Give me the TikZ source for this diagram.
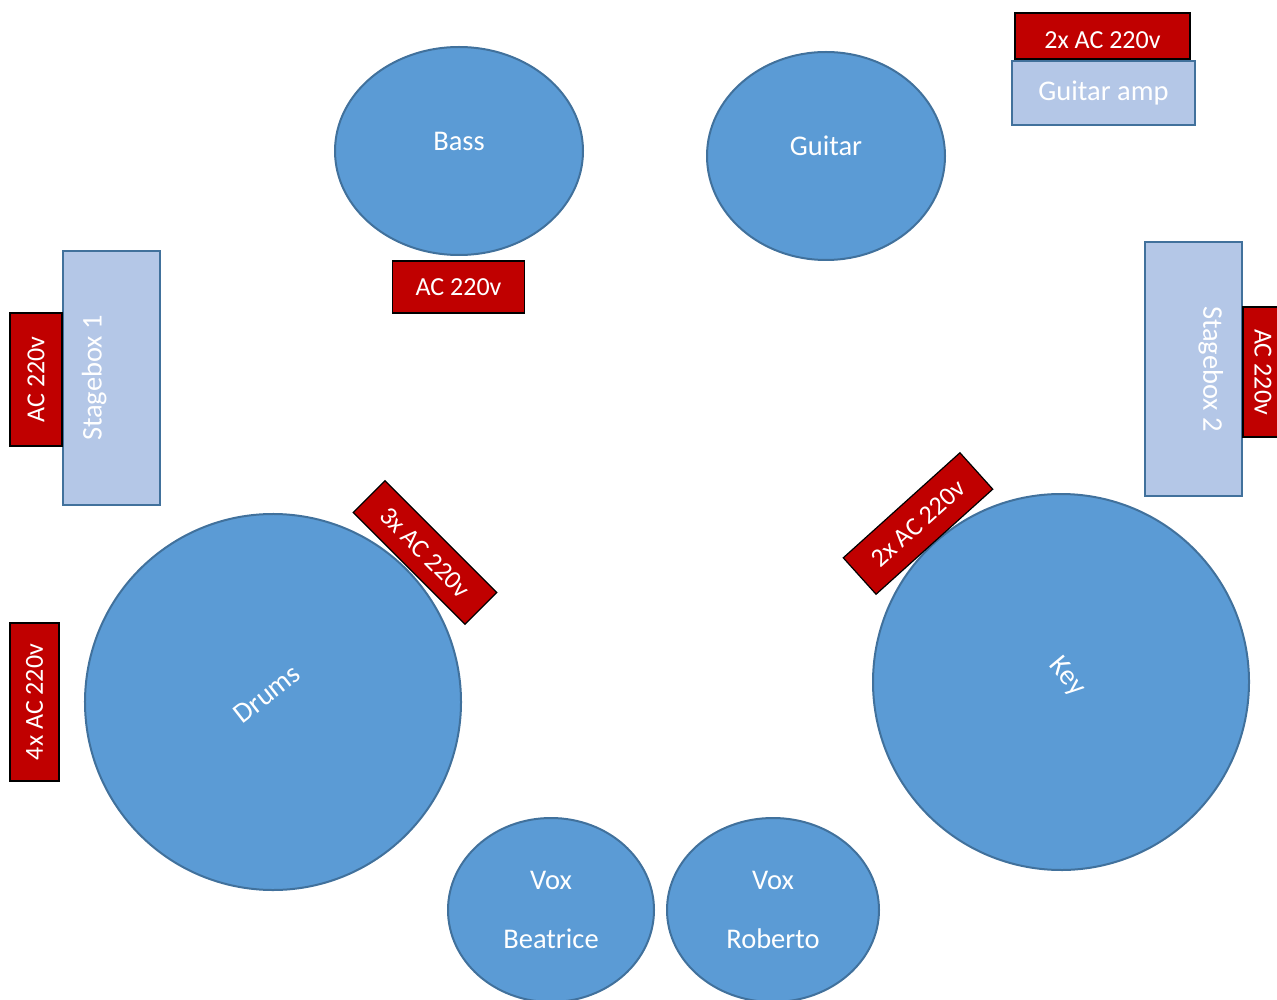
\documentclass[tikz,border=0pt]{standalone}
\usepackage{fontspec}
\setmainfont{Carlito}
\usetikzlibrary{shapes.geometric}
\definecolor{stagefill}{HTML}{5B9BD5}
\definecolor{stageline}{HTML}{41719C}
\definecolor{boxfill}{HTML}{B4C7E7}
\definecolor{powerfill}{HTML}{C00000}
\tikzset{
  player/.style={ellipse, fill=stagefill, draw=stageline, line width=2pt, inner sep=0pt,
    text=white, font=\fontsize{28.5}{34}\selectfont, text height=20pt, text depth=21.6pt},
  voxplayer/.style={ellipse, fill=stagefill, draw=stageline, line width=2pt, inner sep=0pt,
    text=white, font=\fontsize{28.5}{34}\selectfont, align=center},
  power/.style={rectangle, fill=powerfill, draw=black, line width=1.2pt, inner sep=0pt,
    text=white, font=\fontsize{26}{30}\selectfont},
  gear/.style={rectangle, fill=boxfill, draw=stageline, line width=2.5pt, inner sep=0pt,
    text=white, font=\fontsize{28.5}{34}\selectfont},
}
\begin{document}
\begin{tikzpicture}[x=1pt,y=-1pt]
\useasboundingbox (0,0) rectangle (1277,1000);
\clip (0,0) rectangle (1277,1000);

% players
\node[player, minimum width=248pt, minimum height=208pt] (bass) at (459,151) {Bass};
\node[player, minimum width=238pt, minimum height=208pt] (guitar) at (826,156) {Guitar};
\node[player, circle, minimum size=376pt, rotate=38] (drums) at (273,702) {Drums};
\node[player, circle, minimum size=376pt, rotate=-50] (key) at (1061,682) {Key};
\node[voxplayer, minimum width=206pt, minimum height=184pt] (voxb) at (551,910) {Vox\\[25pt]Beatrice};
\node[voxplayer, minimum width=212pt, minimum height=184pt] (voxr) at (773,910) {Vox\\[25pt]Roberto};

% gear
\node[gear, minimum width=183pt, minimum height=64pt] (amp) at (1103.5,93) {Guitar amp};
\node[gear, minimum width=254pt, minimum height=97pt, rotate=90, text height=20pt, text depth=39.6pt] (sb1) at (111.5,378) {Stagebox 1};
\node[gear, minimum width=254pt, minimum height=97pt, rotate=-90, text height=20pt, text depth=39.6pt] (sb2) at (1193.5,369) {Stagebox 2};

% power
\node[power, minimum width=175pt, minimum height=46pt, text height=26pt, text depth=1.2pt] (pamp) at (1102.5,36) {2x AC 220v};
\node[power, minimum width=132pt, minimum height=52pt] (pbass) at (458.5,287) {AC 220v};
\node[power, minimum width=133pt, minimum height=52pt, rotate=90] (psb1) at (36,379.5) {AC 220v};
\node[power, minimum width=130pt, minimum height=40pt, rotate=-90] (psb2) at (1263,372) {AC 220v};
\node[power, minimum width=158pt, minimum height=45pt, rotate=-45] (pdrums) at (425,552.5) {3x AC 220v};
\node[power, minimum width=157pt, minimum height=49pt, rotate=42] (pkey) at (918,523.5) {2x AC 220v};
\node[power, minimum width=158pt, minimum height=49pt, rotate=90] (pfour) at (34.5,702) {4x AC 220v};
\end{tikzpicture}
\end{document}
